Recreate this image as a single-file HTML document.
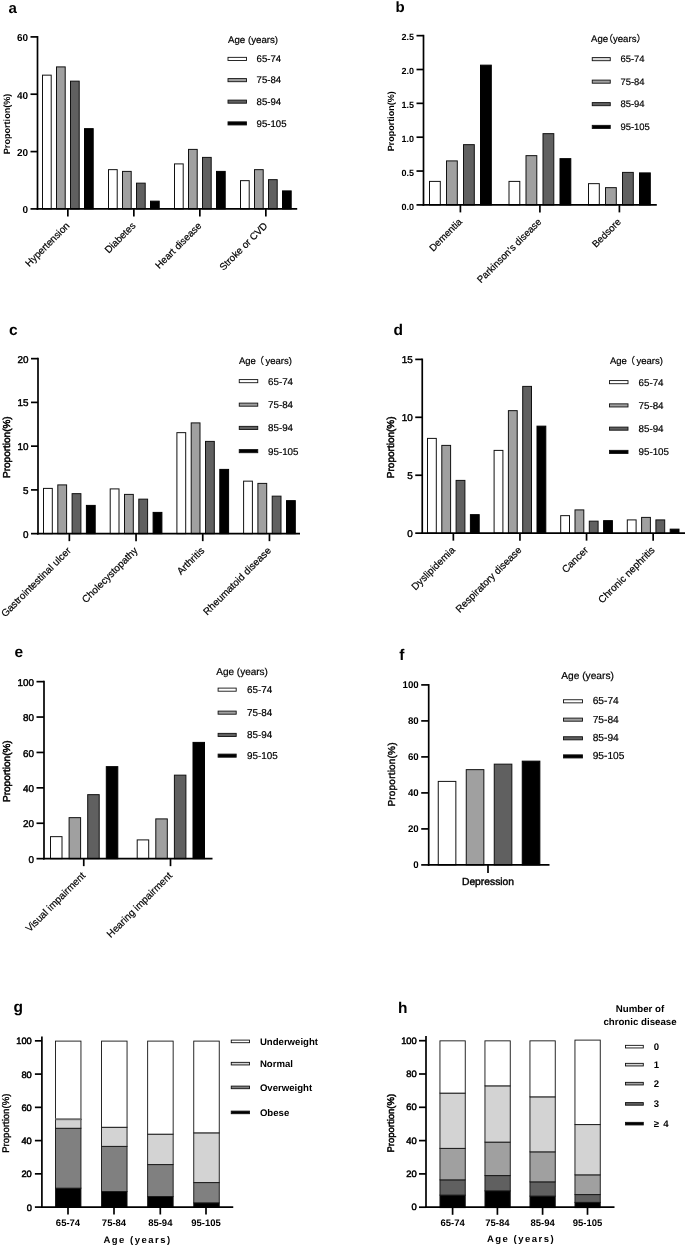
<!DOCTYPE html>
<html lang="en">
<head>
<meta charset="utf-8">
<title>Figure</title>
<style>
html, body { margin: 0; padding: 0; background: #ffffff; }
body { width: 685px; height: 1246px; overflow: hidden; }
svg { display: block; font-family: "Liberation Sans", "Noto Sans CJK SC", sans-serif; text-rendering: geometricPrecision; }
svg text { fill: #000; }
</style>
</head>
<body>
<svg width="685" height="1246" viewBox="0 0 685 1246">
<rect x="0" y="0" width="685" height="1246" fill="#ffffff"/>
<g transform="translate(0 0.4)">
<text x="8.50" y="12.50" font-size="15" font-weight="bold">a</text>
<rect x="42.50" y="74.75" width="8.70" height="133.75" fill="#ffffff" stroke="#111" stroke-width="1.0"/>
<rect x="56.50" y="66.50" width="8.70" height="142.00" fill="#a0a0a0" stroke="#111" stroke-width="1.0"/>
<rect x="70.50" y="80.75" width="8.70" height="127.75" fill="#606060" stroke="#111" stroke-width="1.0"/>
<rect x="84.50" y="128.25" width="8.70" height="80.25" fill="#000000" stroke="#000" stroke-width="1.0"/>
<line x1="67.85" y1="208.50" x2="67.85" y2="216.00" stroke="#000" stroke-width="1.7"/>
<text x="70.10" y="226.00" font-size="9.8" text-anchor="end" transform="rotate(-45 70.10 226.00)" stroke="#000" stroke-width="0.2">Hypertension</text>
<rect x="108.50" y="169.25" width="8.70" height="39.25" fill="#ffffff" stroke="#111" stroke-width="1.0"/>
<rect x="122.50" y="171.00" width="8.70" height="37.50" fill="#a0a0a0" stroke="#111" stroke-width="1.0"/>
<rect x="136.50" y="182.75" width="8.70" height="25.75" fill="#606060" stroke="#111" stroke-width="1.0"/>
<rect x="150.50" y="200.75" width="8.70" height="7.75" fill="#000000" stroke="#000" stroke-width="1.0"/>
<line x1="133.85" y1="208.50" x2="133.85" y2="216.00" stroke="#000" stroke-width="1.7"/>
<text x="136.10" y="226.00" font-size="9.8" text-anchor="end" transform="rotate(-45 136.10 226.00)" stroke="#000" stroke-width="0.2">Diabetes</text>
<rect x="174.50" y="163.50" width="8.70" height="45.00" fill="#ffffff" stroke="#111" stroke-width="1.0"/>
<rect x="188.50" y="149.00" width="8.70" height="59.50" fill="#a0a0a0" stroke="#111" stroke-width="1.0"/>
<rect x="202.50" y="157.00" width="8.70" height="51.50" fill="#606060" stroke="#111" stroke-width="1.0"/>
<rect x="216.50" y="171.00" width="8.70" height="37.50" fill="#000000" stroke="#000" stroke-width="1.0"/>
<line x1="199.85" y1="208.50" x2="199.85" y2="216.00" stroke="#000" stroke-width="1.7"/>
<text x="202.10" y="226.00" font-size="9.8" text-anchor="end" transform="rotate(-45 202.10 226.00)" stroke="#000" stroke-width="0.2">Heart disease</text>
<rect x="240.50" y="180.25" width="8.70" height="28.25" fill="#ffffff" stroke="#111" stroke-width="1.0"/>
<rect x="254.50" y="169.25" width="8.70" height="39.25" fill="#a0a0a0" stroke="#111" stroke-width="1.0"/>
<rect x="268.50" y="179.25" width="8.70" height="29.25" fill="#606060" stroke="#111" stroke-width="1.0"/>
<rect x="282.50" y="190.50" width="8.70" height="18.00" fill="#000000" stroke="#000" stroke-width="1.0"/>
<line x1="265.85" y1="208.50" x2="265.85" y2="216.00" stroke="#000" stroke-width="1.7"/>
<text x="268.10" y="226.00" font-size="9.8" text-anchor="end" transform="rotate(-45 268.10 226.00)" stroke="#000" stroke-width="0.2">Stroke or CVD</text>
<line x1="37.50" y1="35.65" x2="37.50" y2="209.35" stroke="#000" stroke-width="1.7"/>
<line x1="36.65" y1="208.50" x2="297.20" y2="208.50" stroke="#000" stroke-width="1.7"/>
<line x1="30.50" y1="208.50" x2="37.50" y2="208.50" stroke="#000" stroke-width="1.7"/>
<text x="28.00" y="213.10" font-size="10" font-weight="bold" text-anchor="end">0</text>
<line x1="30.50" y1="151.20" x2="37.50" y2="151.20" stroke="#000" stroke-width="1.7"/>
<text x="28.00" y="155.80" font-size="10" font-weight="bold" text-anchor="end">20</text>
<line x1="30.50" y1="93.80" x2="37.50" y2="93.80" stroke="#000" stroke-width="1.7"/>
<text x="28.00" y="98.40" font-size="10" font-weight="bold" text-anchor="end">40</text>
<line x1="30.50" y1="36.50" x2="37.50" y2="36.50" stroke="#000" stroke-width="1.7"/>
<text x="28.00" y="41.10" font-size="10" font-weight="bold" text-anchor="end">60</text>
<text x="10.00" y="123.50" font-size="9.1" font-weight="bold" text-anchor="middle" transform="rotate(-90 10.00 123.50)">Proportion(%)</text>
<text x="228.00" y="42.50" font-size="9.7" stroke="#000" stroke-width="0.2">Age (years)</text>
<rect x="228.00" y="56.95" width="18.50" height="3.10" fill="#ffffff" stroke="#111" stroke-width="0.9"/>
<text x="256.60" y="61.80" font-size="9.6" stroke="#000" stroke-width="0.2">65-74</text>
<rect x="228.00" y="78.20" width="18.50" height="3.10" fill="#a0a0a0" stroke="#111" stroke-width="0.9"/>
<text x="256.60" y="83.05" font-size="9.6" stroke="#000" stroke-width="0.2">75-84</text>
<rect x="228.00" y="99.70" width="18.50" height="3.10" fill="#606060" stroke="#111" stroke-width="0.9"/>
<text x="256.60" y="104.55" font-size="9.6" stroke="#000" stroke-width="0.2">85-94</text>
<rect x="228.00" y="121.45" width="18.50" height="3.10" fill="#000000" stroke="#111" stroke-width="0.9"/>
<text x="256.60" y="126.30" font-size="9.6" stroke="#000" stroke-width="0.2">95-105</text>
<text x="395.50" y="11.75" font-size="15" font-weight="bold">b</text>
<rect x="429.50" y="181.00" width="10.80" height="23.50" fill="#ffffff" stroke="#111" stroke-width="1.0"/>
<rect x="446.50" y="160.50" width="10.80" height="44.00" fill="#a0a0a0" stroke="#111" stroke-width="1.0"/>
<rect x="463.50" y="144.25" width="10.80" height="60.25" fill="#606060" stroke="#111" stroke-width="1.0"/>
<rect x="480.50" y="64.75" width="10.80" height="139.75" fill="#000000" stroke="#000" stroke-width="1.0"/>
<line x1="460.40" y1="204.50" x2="460.40" y2="212.00" stroke="#000" stroke-width="1.7"/>
<text x="462.65" y="222.00" font-size="9.75" text-anchor="end" transform="rotate(-45 462.65 222.00)" stroke="#000" stroke-width="0.2">Dementia</text>
<rect x="509.00" y="181.00" width="10.80" height="23.50" fill="#ffffff" stroke="#111" stroke-width="1.0"/>
<rect x="526.00" y="155.25" width="10.80" height="49.25" fill="#a0a0a0" stroke="#111" stroke-width="1.0"/>
<rect x="543.00" y="133.25" width="10.80" height="71.25" fill="#606060" stroke="#111" stroke-width="1.0"/>
<rect x="560.00" y="158.25" width="10.80" height="46.25" fill="#000000" stroke="#000" stroke-width="1.0"/>
<line x1="539.90" y1="204.50" x2="539.90" y2="212.00" stroke="#000" stroke-width="1.7"/>
<text x="542.15" y="222.00" font-size="9.75" text-anchor="end" transform="rotate(-45 542.15 222.00)" stroke="#000" stroke-width="0.2">Parkinson’s disease</text>
<rect x="588.50" y="183.25" width="10.80" height="21.25" fill="#ffffff" stroke="#111" stroke-width="1.0"/>
<rect x="605.50" y="187.25" width="10.80" height="17.25" fill="#a0a0a0" stroke="#111" stroke-width="1.0"/>
<rect x="622.50" y="172.00" width="10.80" height="32.50" fill="#606060" stroke="#111" stroke-width="1.0"/>
<rect x="639.50" y="172.50" width="10.80" height="32.00" fill="#000000" stroke="#000" stroke-width="1.0"/>
<line x1="619.40" y1="204.50" x2="619.40" y2="212.00" stroke="#000" stroke-width="1.7"/>
<text x="621.65" y="222.00" font-size="9.75" text-anchor="end" transform="rotate(-45 621.65 222.00)" stroke="#000" stroke-width="0.2">Bedsore</text>
<line x1="423.50" y1="34.40" x2="423.50" y2="205.35" stroke="#000" stroke-width="1.7"/>
<line x1="422.65" y1="204.50" x2="656.80" y2="204.50" stroke="#000" stroke-width="1.7"/>
<line x1="416.50" y1="204.50" x2="423.50" y2="204.50" stroke="#000" stroke-width="1.7"/>
<text x="414.00" y="209.34" font-size="9" font-weight="bold" text-anchor="end">0.0</text>
<line x1="416.50" y1="170.65" x2="423.50" y2="170.65" stroke="#000" stroke-width="1.7"/>
<text x="414.00" y="175.49" font-size="9" font-weight="bold" text-anchor="end">0.5</text>
<line x1="416.50" y1="136.80" x2="423.50" y2="136.80" stroke="#000" stroke-width="1.7"/>
<text x="414.00" y="141.64" font-size="9" font-weight="bold" text-anchor="end">1.0</text>
<line x1="416.50" y1="102.95" x2="423.50" y2="102.95" stroke="#000" stroke-width="1.7"/>
<text x="414.00" y="107.79" font-size="9" font-weight="bold" text-anchor="end">1.5</text>
<line x1="416.50" y1="69.10" x2="423.50" y2="69.10" stroke="#000" stroke-width="1.7"/>
<text x="414.00" y="73.94" font-size="9" font-weight="bold" text-anchor="end">2.0</text>
<line x1="416.50" y1="35.25" x2="423.50" y2="35.25" stroke="#000" stroke-width="1.7"/>
<text x="414.00" y="40.09" font-size="9" font-weight="bold" text-anchor="end">2.5</text>
<text x="393.75" y="120.88" font-size="9" font-weight="bold" text-anchor="middle" transform="rotate(-90 393.75 120.88)">Proportion(%)</text>
<text x="591.10" y="41.40" font-size="9.6" stroke="#000" stroke-width="0.2">Age<tspan dx="-4.8">（</tspan>years）</text>
<rect x="592.25" y="57.20" width="18.00" height="3.10" fill="#dcdcdc" stroke="#111" stroke-width="0.9"/>
<text x="620.40" y="62.05" font-size="9.45" stroke="#000" stroke-width="0.2">65-74</text>
<rect x="592.25" y="79.70" width="18.00" height="3.10" fill="#a0a0a0" stroke="#111" stroke-width="0.9"/>
<text x="620.40" y="84.55" font-size="9.45" stroke="#000" stroke-width="0.2">75-84</text>
<rect x="592.25" y="102.20" width="18.00" height="3.10" fill="#606060" stroke="#111" stroke-width="0.9"/>
<text x="620.40" y="107.05" font-size="9.45" stroke="#000" stroke-width="0.2">85-94</text>
<rect x="592.25" y="124.95" width="18.00" height="3.10" fill="#000000" stroke="#111" stroke-width="0.9"/>
<text x="620.40" y="129.80" font-size="9.45" stroke="#000" stroke-width="0.2">95-105</text>
<text x="9.00" y="334.50" font-size="15.5" font-weight="bold">c</text>
<rect x="43.50" y="488.00" width="8.80" height="45.25" fill="#ffffff" stroke="#111" stroke-width="1.0"/>
<rect x="57.80" y="484.50" width="8.80" height="48.75" fill="#a0a0a0" stroke="#111" stroke-width="1.0"/>
<rect x="72.10" y="493.25" width="8.80" height="40.00" fill="#606060" stroke="#111" stroke-width="1.0"/>
<rect x="86.40" y="505.00" width="8.80" height="28.25" fill="#000000" stroke="#000" stroke-width="1.0"/>
<line x1="69.35" y1="533.25" x2="69.35" y2="540.75" stroke="#000" stroke-width="1.7"/>
<text x="71.60" y="550.75" font-size="10" text-anchor="end" transform="rotate(-45 71.60 550.75)" stroke="#000" stroke-width="0.2">Gastrointestinal ulcer</text>
<rect x="110.20" y="488.50" width="8.80" height="44.75" fill="#ffffff" stroke="#111" stroke-width="1.0"/>
<rect x="124.50" y="494.00" width="8.80" height="39.25" fill="#a0a0a0" stroke="#111" stroke-width="1.0"/>
<rect x="138.80" y="498.75" width="8.80" height="34.50" fill="#606060" stroke="#111" stroke-width="1.0"/>
<rect x="153.10" y="512.00" width="8.80" height="21.25" fill="#000000" stroke="#000" stroke-width="1.0"/>
<line x1="136.05" y1="533.25" x2="136.05" y2="540.75" stroke="#000" stroke-width="1.7"/>
<text x="138.30" y="550.75" font-size="10" text-anchor="end" transform="rotate(-45 138.30 550.75)" stroke="#000" stroke-width="0.2">Cholecystopathy</text>
<rect x="176.90" y="432.25" width="8.80" height="101.00" fill="#ffffff" stroke="#111" stroke-width="1.0"/>
<rect x="191.20" y="422.50" width="8.80" height="110.75" fill="#a0a0a0" stroke="#111" stroke-width="1.0"/>
<rect x="205.50" y="441.00" width="8.80" height="92.25" fill="#606060" stroke="#111" stroke-width="1.0"/>
<rect x="219.80" y="469.00" width="8.80" height="64.25" fill="#000000" stroke="#000" stroke-width="1.0"/>
<line x1="202.75" y1="533.25" x2="202.75" y2="540.75" stroke="#000" stroke-width="1.7"/>
<text x="205.00" y="550.75" font-size="10" text-anchor="end" transform="rotate(-45 205.00 550.75)" stroke="#000" stroke-width="0.2">Arthritis</text>
<rect x="243.60" y="480.75" width="8.80" height="52.50" fill="#ffffff" stroke="#111" stroke-width="1.0"/>
<rect x="257.90" y="483.00" width="8.80" height="50.25" fill="#a0a0a0" stroke="#111" stroke-width="1.0"/>
<rect x="272.20" y="495.75" width="8.80" height="37.50" fill="#606060" stroke="#111" stroke-width="1.0"/>
<rect x="286.50" y="500.25" width="8.80" height="33.00" fill="#000000" stroke="#000" stroke-width="1.0"/>
<line x1="269.45" y1="533.25" x2="269.45" y2="540.75" stroke="#000" stroke-width="1.7"/>
<text x="271.70" y="550.75" font-size="10" text-anchor="end" transform="rotate(-45 271.70 550.75)" stroke="#000" stroke-width="0.2">Rheumatoid disease</text>
<line x1="38.00" y1="357.40" x2="38.00" y2="534.10" stroke="#000" stroke-width="1.7"/>
<line x1="37.15" y1="533.25" x2="300.00" y2="533.25" stroke="#000" stroke-width="1.7"/>
<line x1="31.00" y1="533.25" x2="38.00" y2="533.25" stroke="#000" stroke-width="1.7"/>
<text x="28.60" y="537.31" font-size="9.9" text-anchor="end" stroke="#000" stroke-width="0.45">0</text>
<line x1="31.00" y1="489.50" x2="38.00" y2="489.50" stroke="#000" stroke-width="1.7"/>
<text x="28.60" y="493.56" font-size="9.9" text-anchor="end" stroke="#000" stroke-width="0.45">5</text>
<line x1="31.00" y1="445.75" x2="38.00" y2="445.75" stroke="#000" stroke-width="1.7"/>
<text x="28.60" y="449.81" font-size="9.9" text-anchor="end" stroke="#000" stroke-width="0.45">10</text>
<line x1="31.00" y1="402.00" x2="38.00" y2="402.00" stroke="#000" stroke-width="1.7"/>
<text x="28.60" y="406.06" font-size="9.9" text-anchor="end" stroke="#000" stroke-width="0.45">15</text>
<line x1="31.00" y1="358.25" x2="38.00" y2="358.25" stroke="#000" stroke-width="1.7"/>
<text x="28.60" y="362.31" font-size="9.9" text-anchor="end" stroke="#000" stroke-width="0.45">20</text>
<text x="10.00" y="446.75" font-size="10" text-anchor="middle" transform="rotate(-90 10.00 446.75)" stroke="#000" stroke-width="0.5">Proportion(%)</text>
<text x="239.00" y="364.00" font-size="9.5" stroke="#000" stroke-width="0.2">Age<tspan dx="-1.5">（</tspan><tspan dx="1.5">years)</tspan></text>
<rect x="239.25" y="379.20" width="18.50" height="3.10" fill="#ffffff" stroke="#111" stroke-width="0.9"/>
<text x="268.00" y="384.35" font-size="9.8" stroke="#000" stroke-width="0.2">65-74</text>
<rect x="239.25" y="402.70" width="18.50" height="3.10" fill="#a0a0a0" stroke="#111" stroke-width="0.9"/>
<text x="268.00" y="407.85" font-size="9.8" stroke="#000" stroke-width="0.2">75-84</text>
<rect x="239.25" y="425.95" width="18.50" height="3.10" fill="#606060" stroke="#111" stroke-width="0.9"/>
<text x="268.00" y="431.10" font-size="9.8" stroke="#000" stroke-width="0.2">85-94</text>
<rect x="239.25" y="449.20" width="18.50" height="3.10" fill="#000000" stroke="#111" stroke-width="0.9"/>
<text x="268.00" y="454.35" font-size="9.8" stroke="#000" stroke-width="0.2">95-105</text>
<text x="393.50" y="334.50" font-size="15.5" font-weight="bold">d</text>
<rect x="427.50" y="438.00" width="8.80" height="94.75" fill="#ffffff" stroke="#111" stroke-width="1.0"/>
<rect x="441.80" y="445.00" width="8.80" height="87.75" fill="#a0a0a0" stroke="#111" stroke-width="1.0"/>
<rect x="456.10" y="480.00" width="8.80" height="52.75" fill="#606060" stroke="#111" stroke-width="1.0"/>
<rect x="470.40" y="514.25" width="8.80" height="18.50" fill="#000000" stroke="#000" stroke-width="1.0"/>
<line x1="453.35" y1="532.75" x2="453.35" y2="540.25" stroke="#000" stroke-width="1.7"/>
<text x="455.60" y="550.25" font-size="10" text-anchor="end" transform="rotate(-45 455.60 550.25)" stroke="#000" stroke-width="0.2">Dyslipidemia</text>
<rect x="494.10" y="450.00" width="8.80" height="82.75" fill="#ffffff" stroke="#111" stroke-width="1.0"/>
<rect x="508.40" y="410.25" width="8.80" height="122.50" fill="#a0a0a0" stroke="#111" stroke-width="1.0"/>
<rect x="522.70" y="386.00" width="8.80" height="146.75" fill="#606060" stroke="#111" stroke-width="1.0"/>
<rect x="537.00" y="425.75" width="8.80" height="107.00" fill="#000000" stroke="#000" stroke-width="1.0"/>
<line x1="519.95" y1="532.75" x2="519.95" y2="540.25" stroke="#000" stroke-width="1.7"/>
<text x="522.20" y="550.25" font-size="10" text-anchor="end" transform="rotate(-45 522.20 550.25)" stroke="#000" stroke-width="0.2">Respiratory disease</text>
<rect x="560.70" y="515.25" width="8.80" height="17.50" fill="#ffffff" stroke="#111" stroke-width="1.0"/>
<rect x="575.00" y="509.50" width="8.80" height="23.25" fill="#a0a0a0" stroke="#111" stroke-width="1.0"/>
<rect x="589.30" y="520.75" width="8.80" height="12.00" fill="#606060" stroke="#111" stroke-width="1.0"/>
<rect x="603.60" y="520.25" width="8.80" height="12.50" fill="#000000" stroke="#000" stroke-width="1.0"/>
<line x1="586.55" y1="532.75" x2="586.55" y2="540.25" stroke="#000" stroke-width="1.7"/>
<text x="588.80" y="550.25" font-size="10" text-anchor="end" transform="rotate(-45 588.80 550.25)" stroke="#000" stroke-width="0.2">Cancer</text>
<rect x="627.30" y="519.50" width="8.80" height="13.25" fill="#ffffff" stroke="#111" stroke-width="1.0"/>
<rect x="641.60" y="517.00" width="8.80" height="15.75" fill="#a0a0a0" stroke="#111" stroke-width="1.0"/>
<rect x="655.90" y="519.50" width="8.80" height="13.25" fill="#606060" stroke="#111" stroke-width="1.0"/>
<rect x="670.20" y="528.75" width="8.80" height="4.00" fill="#000000" stroke="#000" stroke-width="1.0"/>
<line x1="653.15" y1="532.75" x2="653.15" y2="540.25" stroke="#000" stroke-width="1.7"/>
<text x="655.40" y="550.25" font-size="10" text-anchor="end" transform="rotate(-45 655.40 550.25)" stroke="#000" stroke-width="0.2">Chronic nephritis</text>
<line x1="422.25" y1="358.15" x2="422.25" y2="533.60" stroke="#000" stroke-width="1.7"/>
<line x1="421.40" y1="532.75" x2="690.00" y2="532.75" stroke="#000" stroke-width="1.7"/>
<line x1="415.25" y1="532.75" x2="422.25" y2="532.75" stroke="#000" stroke-width="1.7"/>
<text x="412.65" y="536.81" font-size="9.9" text-anchor="end" stroke="#000" stroke-width="0.45">0</text>
<line x1="415.25" y1="474.85" x2="422.25" y2="474.85" stroke="#000" stroke-width="1.7"/>
<text x="412.65" y="478.91" font-size="9.9" text-anchor="end" stroke="#000" stroke-width="0.45">5</text>
<line x1="415.25" y1="416.90" x2="422.25" y2="416.90" stroke="#000" stroke-width="1.7"/>
<text x="412.65" y="420.96" font-size="9.9" text-anchor="end" stroke="#000" stroke-width="0.45">10</text>
<line x1="415.25" y1="359.00" x2="422.25" y2="359.00" stroke="#000" stroke-width="1.7"/>
<text x="412.65" y="363.06" font-size="9.9" text-anchor="end" stroke="#000" stroke-width="0.45">15</text>
<text x="394.50" y="446.88" font-size="10" text-anchor="middle" transform="rotate(-90 394.50 446.88)" stroke="#000" stroke-width="0.5">Proportion(%)</text>
<text x="610.00" y="363.75" font-size="9.5" stroke="#000" stroke-width="0.2">Age<tspan dx="-1.5">（</tspan><tspan dx="1.5">years)</tspan></text>
<rect x="609.50" y="380.20" width="18.50" height="3.10" fill="#ffffff" stroke="#111" stroke-width="0.9"/>
<text x="638.50" y="385.35" font-size="9.8" stroke="#000" stroke-width="0.2">65-74</text>
<rect x="609.50" y="403.45" width="18.50" height="3.10" fill="#a0a0a0" stroke="#111" stroke-width="0.9"/>
<text x="638.50" y="408.60" font-size="9.8" stroke="#000" stroke-width="0.2">75-84</text>
<rect x="609.50" y="426.70" width="18.50" height="3.10" fill="#606060" stroke="#111" stroke-width="0.9"/>
<text x="638.50" y="431.85" font-size="9.8" stroke="#000" stroke-width="0.2">85-94</text>
<rect x="609.50" y="449.95" width="18.50" height="3.10" fill="#000000" stroke="#111" stroke-width="0.9"/>
<text x="638.50" y="455.10" font-size="9.8" stroke="#000" stroke-width="0.2">95-105</text>
<text x="14.50" y="656.25" font-size="15.5" font-weight="bold">e</text>
<rect x="50.50" y="836.25" width="11.50" height="22.00" fill="#ffffff" stroke="#111" stroke-width="1.0"/>
<rect x="69.10" y="817.25" width="11.50" height="41.00" fill="#a0a0a0" stroke="#111" stroke-width="1.0"/>
<rect x="87.70" y="794.25" width="11.50" height="64.00" fill="#606060" stroke="#111" stroke-width="1.0"/>
<rect x="106.30" y="766.25" width="11.50" height="92.00" fill="#000000" stroke="#000" stroke-width="1.0"/>
<line x1="83.75" y1="858.25" x2="83.75" y2="865.75" stroke="#000" stroke-width="1.7"/>
<text x="86.00" y="875.85" font-size="10.05" text-anchor="end" transform="rotate(-45 86.00 875.85)" stroke="#000" stroke-width="0.2">Visual impairment</text>
<rect x="137.20" y="839.50" width="11.50" height="18.75" fill="#ffffff" stroke="#111" stroke-width="1.0"/>
<rect x="155.80" y="818.50" width="11.50" height="39.75" fill="#a0a0a0" stroke="#111" stroke-width="1.0"/>
<rect x="174.40" y="774.75" width="11.50" height="83.50" fill="#606060" stroke="#111" stroke-width="1.0"/>
<rect x="193.00" y="742.00" width="11.50" height="116.25" fill="#000000" stroke="#000" stroke-width="1.0"/>
<line x1="170.50" y1="858.25" x2="170.50" y2="865.75" stroke="#000" stroke-width="1.7"/>
<text x="172.75" y="875.85" font-size="10.05" text-anchor="end" transform="rotate(-45 172.75 875.85)" stroke="#000" stroke-width="0.2">Hearing impairment</text>
<line x1="44.00" y1="680.40" x2="44.00" y2="859.10" stroke="#000" stroke-width="1.7"/>
<line x1="43.15" y1="858.25" x2="212.50" y2="858.25" stroke="#000" stroke-width="1.7"/>
<line x1="36.50" y1="858.25" x2="44.00" y2="858.25" stroke="#000" stroke-width="1.7"/>
<text x="34.00" y="862.31" font-size="9.9" text-anchor="end" stroke="#000" stroke-width="0.45">0</text>
<line x1="36.50" y1="822.85" x2="44.00" y2="822.85" stroke="#000" stroke-width="1.7"/>
<text x="34.00" y="826.91" font-size="9.9" text-anchor="end" stroke="#000" stroke-width="0.45">20</text>
<line x1="36.50" y1="787.45" x2="44.00" y2="787.45" stroke="#000" stroke-width="1.7"/>
<text x="34.00" y="791.51" font-size="9.9" text-anchor="end" stroke="#000" stroke-width="0.45">40</text>
<line x1="36.50" y1="752.05" x2="44.00" y2="752.05" stroke="#000" stroke-width="1.7"/>
<text x="34.00" y="756.11" font-size="9.9" text-anchor="end" stroke="#000" stroke-width="0.45">60</text>
<line x1="36.50" y1="716.65" x2="44.00" y2="716.65" stroke="#000" stroke-width="1.7"/>
<text x="34.00" y="720.71" font-size="9.9" text-anchor="end" stroke="#000" stroke-width="0.45">80</text>
<line x1="36.50" y1="681.25" x2="44.00" y2="681.25" stroke="#000" stroke-width="1.7"/>
<text x="34.00" y="685.31" font-size="9.9" text-anchor="end" stroke="#000" stroke-width="0.45">100</text>
<text x="10.00" y="770.75" font-size="10" text-anchor="middle" transform="rotate(-90 10.00 770.75)" stroke="#000" stroke-width="0.5">Proportion(%)</text>
<text x="216.25" y="675.00" font-size="10" stroke="#000" stroke-width="0.2">Age (years)</text>
<rect x="218.10" y="687.70" width="18.10" height="3.10" fill="#ffffff" stroke="#111" stroke-width="0.9"/>
<text x="247.00" y="692.75" font-size="9.9" stroke="#000" stroke-width="0.2">65-74</text>
<rect x="218.10" y="710.70" width="18.10" height="3.10" fill="#a0a0a0" stroke="#111" stroke-width="0.9"/>
<text x="247.00" y="715.75" font-size="9.9" stroke="#000" stroke-width="0.2">75-84</text>
<rect x="218.10" y="732.95" width="18.10" height="3.10" fill="#606060" stroke="#111" stroke-width="0.9"/>
<text x="247.00" y="738.00" font-size="9.9" stroke="#000" stroke-width="0.2">85-94</text>
<rect x="218.10" y="753.70" width="18.10" height="3.10" fill="#000000" stroke="#111" stroke-width="0.9"/>
<text x="247.00" y="758.75" font-size="9.9" stroke="#000" stroke-width="0.2">95-105</text>
<text x="399.25" y="659.25" font-size="15.5" font-weight="bold">f</text>
<rect x="438.25" y="781.00" width="17.60" height="83.50" fill="#ffffff" stroke="#111" stroke-width="1.0"/>
<rect x="466.25" y="769.25" width="17.60" height="95.25" fill="#a0a0a0" stroke="#111" stroke-width="1.0"/>
<rect x="494.25" y="763.75" width="17.60" height="100.75" fill="#606060" stroke="#111" stroke-width="1.0"/>
<rect x="522.25" y="760.75" width="17.60" height="103.75" fill="#000000" stroke="#000" stroke-width="1.0"/>
<line x1="488.00" y1="864.50" x2="488.00" y2="872.50" stroke="#000" stroke-width="1.7"/>
<text x="488.00" y="884.75" font-size="10.3" text-anchor="middle" stroke="#000" stroke-width="0.4">Depression</text>
<line x1="428.70" y1="683.65" x2="428.70" y2="865.35" stroke="#000" stroke-width="1.7"/>
<line x1="427.85" y1="864.50" x2="549.50" y2="864.50" stroke="#000" stroke-width="1.7"/>
<line x1="421.20" y1="864.50" x2="428.70" y2="864.50" stroke="#000" stroke-width="1.7"/>
<text x="418.70" y="867.89" font-size="9.7" font-weight="bold" text-anchor="end">0</text>
<line x1="421.20" y1="828.50" x2="428.70" y2="828.50" stroke="#000" stroke-width="1.7"/>
<text x="418.70" y="831.89" font-size="9.7" font-weight="bold" text-anchor="end">20</text>
<line x1="421.20" y1="792.50" x2="428.70" y2="792.50" stroke="#000" stroke-width="1.7"/>
<text x="418.70" y="795.89" font-size="9.7" font-weight="bold" text-anchor="end">40</text>
<line x1="421.20" y1="756.50" x2="428.70" y2="756.50" stroke="#000" stroke-width="1.7"/>
<text x="418.70" y="759.89" font-size="9.7" font-weight="bold" text-anchor="end">60</text>
<line x1="421.20" y1="720.50" x2="428.70" y2="720.50" stroke="#000" stroke-width="1.7"/>
<text x="418.70" y="723.89" font-size="9.7" font-weight="bold" text-anchor="end">80</text>
<line x1="421.20" y1="684.50" x2="428.70" y2="684.50" stroke="#000" stroke-width="1.7"/>
<text x="418.70" y="687.89" font-size="9.7" font-weight="bold" text-anchor="end">100</text>
<text x="395.00" y="774.00" font-size="10" text-anchor="middle" transform="rotate(-90 395.00 774.00)" letter-spacing="0.2" stroke="#000" stroke-width="0.4">Proportion(%)</text>
<text x="561.25" y="678.40" font-size="10.2" stroke="#000" stroke-width="0.2">Age (years)</text>
<rect x="563.50" y="699.35" width="19.00" height="3.10" fill="#ffffff" stroke="#111" stroke-width="0.9"/>
<text x="592.70" y="703.80" font-size="10.2" stroke="#000" stroke-width="0.2">65-74</text>
<rect x="563.50" y="717.70" width="19.00" height="3.10" fill="#a0a0a0" stroke="#111" stroke-width="0.9"/>
<text x="592.70" y="722.15" font-size="10.2" stroke="#000" stroke-width="0.2">75-84</text>
<rect x="563.50" y="736.35" width="19.00" height="3.10" fill="#606060" stroke="#111" stroke-width="0.9"/>
<text x="592.70" y="740.80" font-size="10.2" stroke="#000" stroke-width="0.2">85-94</text>
<rect x="563.50" y="754.45" width="19.00" height="3.10" fill="#000000" stroke="#111" stroke-width="0.9"/>
<text x="592.70" y="758.90" font-size="10.2" stroke="#000" stroke-width="0.2">95-105</text>
<text x="13.50" y="1011.25" font-size="15.5" font-weight="bold">g</text>
<rect x="55.45" y="1187.75" width="25.50" height="19.20" fill="#000000" stroke="#111" stroke-width="0.9"/>
<rect x="55.45" y="1127.85" width="25.50" height="59.90" fill="#808080" stroke="#111" stroke-width="0.9"/>
<rect x="55.45" y="1119.05" width="25.50" height="8.80" fill="#d3d3d3" stroke="#111" stroke-width="0.9"/>
<rect x="55.45" y="1040.70" width="25.50" height="78.35" fill="#ffffff" stroke="#111" stroke-width="0.9"/>
<line x1="68.00" y1="1206.50" x2="68.00" y2="1214.10" stroke="#000" stroke-width="1.7"/>
<text x="68.00" y="1225.75" font-size="9.5" font-weight="bold" text-anchor="middle">65-74</text>
<rect x="101.55" y="1191.20" width="25.50" height="15.75" fill="#000000" stroke="#111" stroke-width="0.9"/>
<rect x="101.55" y="1145.95" width="25.50" height="45.25" fill="#808080" stroke="#111" stroke-width="0.9"/>
<rect x="101.55" y="1126.85" width="25.50" height="19.10" fill="#d3d3d3" stroke="#111" stroke-width="0.9"/>
<rect x="101.55" y="1040.70" width="25.50" height="86.15" fill="#ffffff" stroke="#111" stroke-width="0.9"/>
<line x1="114.00" y1="1206.50" x2="114.00" y2="1214.10" stroke="#000" stroke-width="1.7"/>
<text x="114.00" y="1225.75" font-size="9.5" font-weight="bold" text-anchor="middle">75-84</text>
<rect x="147.65" y="1196.20" width="25.50" height="10.75" fill="#000000" stroke="#111" stroke-width="0.9"/>
<rect x="147.65" y="1164.20" width="25.50" height="32.00" fill="#808080" stroke="#111" stroke-width="0.9"/>
<rect x="147.65" y="1133.75" width="25.50" height="30.45" fill="#d3d3d3" stroke="#111" stroke-width="0.9"/>
<rect x="147.65" y="1040.70" width="25.50" height="93.05" fill="#ffffff" stroke="#111" stroke-width="0.9"/>
<line x1="160.30" y1="1206.50" x2="160.30" y2="1214.10" stroke="#000" stroke-width="1.7"/>
<text x="160.30" y="1225.75" font-size="9.5" font-weight="bold" text-anchor="middle">85-94</text>
<rect x="193.75" y="1202.45" width="25.50" height="4.50" fill="#000000" stroke="#111" stroke-width="0.9"/>
<rect x="193.75" y="1182.20" width="25.50" height="20.25" fill="#808080" stroke="#111" stroke-width="0.9"/>
<rect x="193.75" y="1132.45" width="25.50" height="49.75" fill="#d3d3d3" stroke="#111" stroke-width="0.9"/>
<rect x="193.75" y="1040.70" width="25.50" height="91.75" fill="#ffffff" stroke="#111" stroke-width="0.9"/>
<line x1="206.00" y1="1206.50" x2="206.00" y2="1214.10" stroke="#000" stroke-width="1.7"/>
<text x="206.00" y="1225.75" font-size="9.5" font-weight="bold" text-anchor="middle">95-105</text>
<rect x="55.45" y="1118.20" width="25.50" height="1.30" fill="#8a8a8a" stroke="#555" stroke-width="0.5"/>
<line x1="41.90" y1="1036.00" x2="41.90" y2="1207.55" stroke="#000" stroke-width="1.7"/>
<line x1="41.05" y1="1206.70" x2="233.25" y2="1206.70" stroke="#000" stroke-width="1.7"/>
<line x1="34.90" y1="1206.70" x2="41.90" y2="1206.70" stroke="#000" stroke-width="1.7"/>
<text x="31.80" y="1210.25" font-size="9.3" text-anchor="end" stroke="#000" stroke-width="0.5">0</text>
<line x1="34.90" y1="1173.45" x2="41.90" y2="1173.45" stroke="#000" stroke-width="1.7"/>
<text x="31.80" y="1177.00" font-size="9.3" text-anchor="end" stroke="#000" stroke-width="0.5">20</text>
<line x1="34.90" y1="1140.20" x2="41.90" y2="1140.20" stroke="#000" stroke-width="1.7"/>
<text x="31.80" y="1143.75" font-size="9.3" text-anchor="end" stroke="#000" stroke-width="0.5">40</text>
<line x1="34.90" y1="1106.95" x2="41.90" y2="1106.95" stroke="#000" stroke-width="1.7"/>
<text x="31.80" y="1110.50" font-size="9.3" text-anchor="end" stroke="#000" stroke-width="0.5">60</text>
<line x1="34.90" y1="1073.70" x2="41.90" y2="1073.70" stroke="#000" stroke-width="1.7"/>
<text x="31.80" y="1077.25" font-size="9.3" text-anchor="end" stroke="#000" stroke-width="0.5">80</text>
<line x1="34.90" y1="1040.45" x2="41.90" y2="1040.45" stroke="#000" stroke-width="1.7"/>
<text x="31.80" y="1044.00" font-size="9.3" text-anchor="end" stroke="#000" stroke-width="0.5">100</text>
<text x="9.40" y="1122.83" font-size="9.6" text-anchor="middle" transform="rotate(-90 9.40 1122.83)" stroke="#000" stroke-width="0.35">Proportion(%)</text>
<text x="137.50" y="1242.50" font-size="9.5" font-weight="bold" text-anchor="middle" letter-spacing="1.5">Age (years)</text>
<rect x="231.25" y="1039.70" width="18.25" height="2.60" fill="#ffffff" stroke="#111" stroke-width="0.9"/>
<text x="259.90" y="1044.40" font-size="9.6" font-weight="bold">Underweight</text>
<rect x="231.25" y="1061.95" width="18.25" height="2.60" fill="#d3d3d3" stroke="#111" stroke-width="0.9"/>
<text x="259.90" y="1066.65" font-size="9.6" font-weight="bold">Normal</text>
<rect x="231.25" y="1085.70" width="18.25" height="2.60" fill="#808080" stroke="#111" stroke-width="0.9"/>
<text x="259.90" y="1090.40" font-size="9.6" font-weight="bold">Overweight</text>
<rect x="231.25" y="1110.70" width="18.25" height="2.60" fill="#000000" stroke="#111" stroke-width="0.9"/>
<text x="259.90" y="1115.40" font-size="9.6" font-weight="bold">Obese</text>
<text x="398.00" y="1012.50" font-size="15.5" font-weight="bold">h</text>
<rect x="439.95" y="1194.70" width="25.30" height="12.55" fill="#000000" stroke="#111" stroke-width="0.9"/>
<rect x="439.95" y="1179.45" width="25.30" height="15.25" fill="#606060" stroke="#111" stroke-width="0.9"/>
<rect x="439.95" y="1147.95" width="25.30" height="31.50" fill="#a0a0a0" stroke="#111" stroke-width="0.9"/>
<rect x="439.95" y="1092.70" width="25.30" height="55.25" fill="#d3d3d3" stroke="#111" stroke-width="0.9"/>
<rect x="439.95" y="1040.45" width="25.30" height="52.25" fill="#ffffff" stroke="#111" stroke-width="0.9"/>
<line x1="452.60" y1="1206.80" x2="452.60" y2="1214.40" stroke="#000" stroke-width="1.7"/>
<text x="452.60" y="1226.05" font-size="9.5" font-weight="bold" text-anchor="middle">65-74</text>
<rect x="484.95" y="1190.45" width="25.30" height="16.80" fill="#000000" stroke="#111" stroke-width="0.9"/>
<rect x="484.95" y="1175.20" width="25.30" height="15.25" fill="#606060" stroke="#111" stroke-width="0.9"/>
<rect x="484.95" y="1141.70" width="25.30" height="33.50" fill="#a0a0a0" stroke="#111" stroke-width="0.9"/>
<rect x="484.95" y="1085.45" width="25.30" height="56.25" fill="#d3d3d3" stroke="#111" stroke-width="0.9"/>
<rect x="484.95" y="1040.45" width="25.30" height="45.00" fill="#ffffff" stroke="#111" stroke-width="0.9"/>
<line x1="497.40" y1="1206.80" x2="497.40" y2="1214.40" stroke="#000" stroke-width="1.7"/>
<text x="497.40" y="1226.05" font-size="9.5" font-weight="bold" text-anchor="middle">75-84</text>
<rect x="529.95" y="1195.70" width="25.30" height="11.55" fill="#000000" stroke="#111" stroke-width="0.9"/>
<rect x="529.95" y="1181.45" width="25.30" height="14.25" fill="#606060" stroke="#111" stroke-width="0.9"/>
<rect x="529.95" y="1151.45" width="25.30" height="30.00" fill="#a0a0a0" stroke="#111" stroke-width="0.9"/>
<rect x="529.95" y="1096.45" width="25.30" height="55.00" fill="#d3d3d3" stroke="#111" stroke-width="0.9"/>
<rect x="529.95" y="1040.45" width="25.30" height="56.00" fill="#ffffff" stroke="#111" stroke-width="0.9"/>
<line x1="542.60" y1="1206.80" x2="542.60" y2="1214.40" stroke="#000" stroke-width="1.7"/>
<text x="542.60" y="1226.05" font-size="9.5" font-weight="bold" text-anchor="middle">85-94</text>
<rect x="574.95" y="1201.95" width="25.30" height="5.30" fill="#000000" stroke="#111" stroke-width="0.9"/>
<rect x="574.95" y="1194.20" width="25.30" height="7.75" fill="#606060" stroke="#111" stroke-width="0.9"/>
<rect x="574.95" y="1174.45" width="25.30" height="19.75" fill="#a0a0a0" stroke="#111" stroke-width="0.9"/>
<rect x="574.95" y="1124.20" width="25.30" height="50.25" fill="#d3d3d3" stroke="#111" stroke-width="0.9"/>
<rect x="574.95" y="1039.70" width="25.30" height="84.50" fill="#ffffff" stroke="#111" stroke-width="0.9"/>
<line x1="587.50" y1="1206.80" x2="587.50" y2="1214.40" stroke="#000" stroke-width="1.7"/>
<text x="587.50" y="1226.05" font-size="9.5" font-weight="bold" text-anchor="middle">95-105</text>
<line x1="426.00" y1="1035.50" x2="426.00" y2="1207.65" stroke="#000" stroke-width="1.7"/>
<line x1="425.15" y1="1206.80" x2="614.50" y2="1206.80" stroke="#000" stroke-width="1.7"/>
<line x1="419.00" y1="1206.80" x2="426.00" y2="1206.80" stroke="#000" stroke-width="1.7"/>
<text x="416.80" y="1209.98" font-size="9.4" text-anchor="end" stroke="#000" stroke-width="0.5">0</text>
<line x1="419.00" y1="1173.50" x2="426.00" y2="1173.50" stroke="#000" stroke-width="1.7"/>
<text x="416.80" y="1176.68" font-size="9.4" text-anchor="end" stroke="#000" stroke-width="0.5">20</text>
<line x1="419.00" y1="1140.20" x2="426.00" y2="1140.20" stroke="#000" stroke-width="1.7"/>
<text x="416.80" y="1143.38" font-size="9.4" text-anchor="end" stroke="#000" stroke-width="0.5">40</text>
<line x1="419.00" y1="1106.90" x2="426.00" y2="1106.90" stroke="#000" stroke-width="1.7"/>
<text x="416.80" y="1110.08" font-size="9.4" text-anchor="end" stroke="#000" stroke-width="0.5">60</text>
<line x1="419.00" y1="1073.60" x2="426.00" y2="1073.60" stroke="#000" stroke-width="1.7"/>
<text x="416.80" y="1076.78" font-size="9.4" text-anchor="end" stroke="#000" stroke-width="0.5">80</text>
<line x1="419.00" y1="1040.30" x2="426.00" y2="1040.30" stroke="#000" stroke-width="1.7"/>
<text x="416.80" y="1043.48" font-size="9.4" text-anchor="end" stroke="#000" stroke-width="0.5">100</text>
<text x="394.30" y="1122.80" font-size="9.5" text-anchor="middle" transform="rotate(-90 394.30 1122.80)" stroke="#000" stroke-width="0.5">Proportion(%)</text>
<text x="521.00" y="1242.00" font-size="9.5" font-weight="bold" text-anchor="middle" letter-spacing="1.5">Age (years)</text>
<text x="640.00" y="1011.50" font-size="9.7" font-weight="bold" text-anchor="middle">Number of</text>
<text x="640.00" y="1024.50" font-size="9.7" font-weight="bold" text-anchor="middle">chronic disease</text>
<rect x="625.50" y="1044.95" width="17.80" height="2.60" fill="#ffffff" stroke="#111" stroke-width="0.9"/>
<text x="653.70" y="1049.75" font-size="9.6" font-weight="bold">0</text>
<rect x="625.50" y="1062.95" width="17.80" height="2.60" fill="#d3d3d3" stroke="#111" stroke-width="0.9"/>
<text x="653.70" y="1067.75" font-size="9.6" font-weight="bold">1</text>
<rect x="625.50" y="1081.95" width="17.80" height="2.60" fill="#a0a0a0" stroke="#111" stroke-width="0.9"/>
<text x="653.70" y="1086.75" font-size="9.6" font-weight="bold">2</text>
<rect x="625.50" y="1102.20" width="17.80" height="2.60" fill="#606060" stroke="#111" stroke-width="0.9"/>
<text x="653.70" y="1107.00" font-size="9.6" font-weight="bold">3</text>
<rect x="625.50" y="1121.95" width="17.80" height="2.60" fill="#000000" stroke="#111" stroke-width="0.9"/>
<text x="653.70" y="1126.75" font-size="9.6" font-weight="bold">≥ <tspan dx="1.6">4</tspan></text>
</g>
</svg>
</body>
</html>
